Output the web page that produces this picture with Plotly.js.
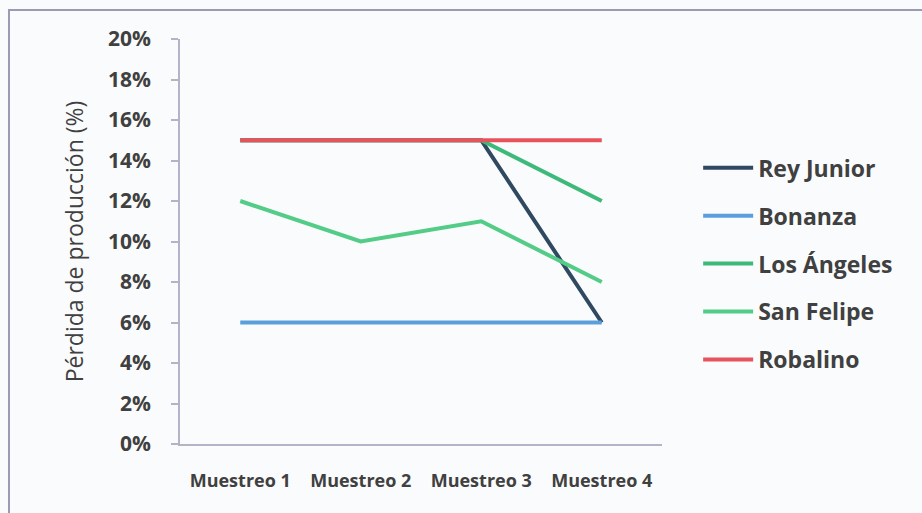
<!DOCTYPE html>
<html><head><meta charset="utf-8">
<script src="https://cdn.plot.ly/plotly-3.0.1.min.js"></script>
<style>html,body{margin:0;padding:0;background:#fafbfc;}</style>
</head><body>
<div id="chart" style="width:922px;height:513px;"></div>
<script>
const categories = ["Muestreo 1", "Muestreo 2", "Muestreo 3", "Muestreo 4"];
const reyJunior = [15, 15, 15, 6];
const bonanza = [6, 6, 6, 6];
const losAngeles = [15, 15, 15, 12];
const sanFelipe = [12, 10, 11, 8];
const robalino = [15, 15, 15, 15];
const yTicks = [0, 2, 4, 6, 8, 10, 12, 14, 16, 18, 20];
const yTickLabels = yTicks.map(v => v + "%");

const series = [
  {name: "Rey Junior", y: reyJunior, color: "#2f4a60"},
  {name: "Bonanza", y: bonanza, color: "#5a9fdc"},
  {name: "Los Ángeles", y: losAngeles, color: "#3dba7a"},
  {name: "San Felipe", y: sanFelipe, color: "#52cc86"},
  {name: "Robalino", y: robalino, color: "#e8525c"}
];

const traces = series.map((s, i) => ({
  type: "scatter", mode: "lines", name: s.name, x: categories, y: s.y,
  line: {color: s.color, width: 4}, legendgroup: "g" + i
}));

const layout = {
  width: 922, height: 513,
  margin: {l: 180, r: 260, t: 39, b: 69},
  paper_bgcolor: "#fafbfc", plot_bgcolor: "rgba(0,0,0,0)",
  font: {family: "Open Sans, sans-serif", color: "#404040"},
  xaxis: {
    type: "category", range: [-0.5, 3.5],
    showline: true, linecolor: "#b4b4c8", linewidth: 1.5,
    showgrid: false, zeroline: false, ticks: "",
    tickfont: {size: 18, color: "#404040", weight: "bold"},
    ticklabelstandoff: 20
  },
  yaxis: {
    range: [0, 20], tickmode: "array", tickvals: yTicks, ticktext: yTickLabels,
    showline: true, linecolor: "#b4b4c8", linewidth: 1.5,
    ticks: "outside", ticklen: 7, tickcolor: "#b4b4c8", tickwidth: 1.5,
    showgrid: false, zeroline: false,
    tickfont: {size: 21, color: "#404040", weight: "bold"},
    ticklabelstandoff: 16,
    title: {text: "Pérdida de producción (%)", font: {size: 23, color: "#404040"}, standoff: 18}
  },
  legend: {
    x: 1.075, y: 0.735, xanchor: "left", yanchor: "top",
    font: {size: 23, color: "#404040", weight: "bold"},
    traceorder: "grouped", tracegroupgap: 15, bgcolor: "rgba(0,0,0,0)",
    itemwidth: 50
  },
  shapes: [{
    type: "rect", xref: "paper", yref: "paper",
    x0: -0.3548, x1: 1.56, y0: -0.19, y1: 1.0716,
    line: {color: "#9a9ab2", width: 2}, fillcolor: "rgba(0,0,0,0)", layer: "below"
  }]
};

Plotly.newPlot("chart", traces, layout, {displayModeBar: false});
</script>
</body></html>
